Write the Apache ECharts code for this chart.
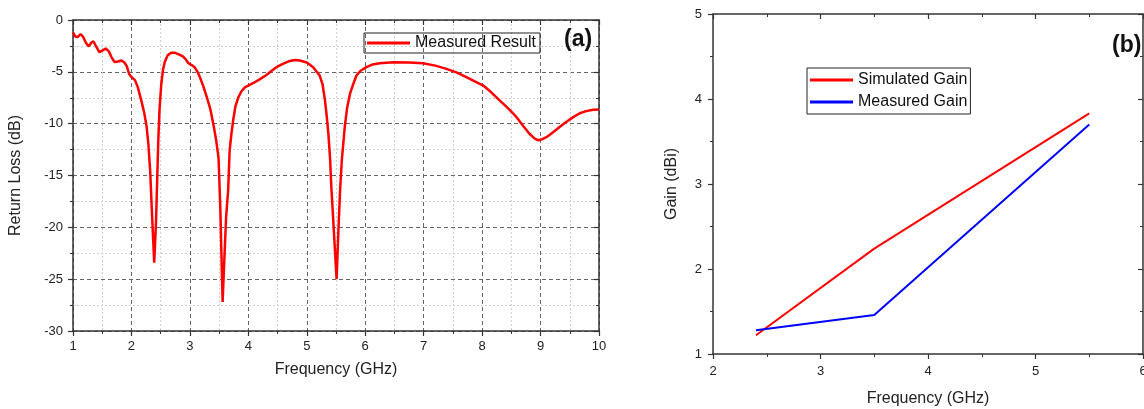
<!DOCTYPE html>
<html>
<head>
<meta charset="utf-8">
<script src="https://cdn.jsdelivr.net/npm/echarts@6/dist/echarts.min.js"></script>
<style>
  html, body { margin: 0; padding: 0; background: #fff; }
  #main { width: 1144px; height: 409px; }
</style>
</head>
<body>
<div id="main"></div>
<script>
// (a) measured return loss
var freqA = [1.00, 1.04, 1.08, 1.13, 1.17, 1.22, 1.27, 1.31, 1.35, 1.40, 1.45, 1.50, 1.56, 1.61, 1.66, 1.71, 1.77, 1.83, 1.88, 1.92,
  1.96, 2.00, 2.06, 2.11, 2.17, 2.22, 2.26, 2.29, 2.32, 2.35, 2.39, 2.42, 2.44, 2.46, 2.48, 2.51, 2.54, 2.57, 2.62, 2.68,
  2.74, 2.80, 2.88, 2.93, 2.97, 3.03, 3.08, 3.13, 3.17, 3.23, 3.29, 3.35, 3.40, 3.45, 3.49, 3.52, 3.56, 3.59, 3.62, 3.655,
  3.68, 3.71, 3.74, 3.78, 3.83, 3.88, 3.94, 4.08, 4.20, 4.31, 4.40, 4.48, 4.60, 4.71, 4.80, 4.88, 5.00, 5.11, 5.22, 5.27,
  5.31, 5.34, 5.37, 5.40, 5.42, 5.47, 5.51, 5.54, 5.57, 5.60, 5.65, 5.69, 5.74, 5.80, 5.85, 5.92, 6.02, 6.12, 6.25, 6.48,
  6.75, 6.99, 7.20, 7.39, 7.56, 7.73, 8.02, 8.16, 8.30, 8.45, 8.59, 8.70, 8.81, 8.90, 8.96, 9.03, 9.10, 9.22, 9.33, 9.45,
  9.56, 9.67, 9.78, 9.90, 10.0];
var returnLoss = [-1.2, -1.6, -1.65, -1.35, -1.6, -2.2, -2.55, -2.2, -2.05, -2.6, -3.1, -2.95, -2.75, -3.0, -3.6, -4.05, -4.0, -3.9, -4.1, -4.45,
  -5.2, -5.5, -5.8, -6.5, -7.8, -9.0, -10.3, -12.0, -14.5, -18.5, -23.4, -19.5, -15.5, -11.5, -8.7, -6.2, -4.8, -4.05, -3.4, -3.15,
  -3.15, -3.3, -3.5, -3.8, -4.15, -4.35, -4.55, -5.0, -5.5, -6.4, -7.45, -8.6, -10.0, -11.6, -13.3, -18.0, -27.2, -23.0, -19.0, -16.4,
  -12.6, -11.0, -9.7, -8.3, -7.45, -6.9, -6.5, -6.1, -5.7, -5.3, -4.9, -4.55, -4.2, -3.95, -3.85, -3.9, -4.1, -4.55, -5.35, -6.2,
  -7.7, -9.2, -11.0, -13.5, -16.1, -21.0, -25.0, -20.5, -16.4, -13.5, -10.3, -8.5, -7.1, -6.1, -5.35, -4.9, -4.55, -4.3, -4.17, -4.07,
  -4.1, -4.17, -4.4, -4.71, -5.05, -5.5, -6.32, -7.0, -7.76, -8.55, -9.37, -10.2, -10.97, -11.45, -11.6, -11.5, -11.3, -10.8, -10.3, -9.8,
  -9.37, -9.0, -8.79, -8.65, -8.63];

// (b) gain
var gainFreq = [2.4, 3.5, 5.5];
var simulatedGain = [1.22, 2.24, 3.83];
var measuredGain = [1.28, 1.46, 3.70];

var font = '"Liberation Sans", Arial, sans-serif';
var axisColor = '#333';

function pairs(xs, ys) {
  return xs.map(function (x, i) { return [x, ys[i]]; });
}

function mainAxis(gridIndex, pos, min, max, name, nameGap, grid) {
  return {
    type: 'value', gridIndex: gridIndex, position: pos, min: min, max: max, interval: 1,
    name: name, nameLocation: 'middle', nameGap: nameGap,
    nameTextStyle: { fontSize: 16, color: '#222', fontFamily: font },
    axisLine: { show: true, onZero: false, lineStyle: { color: axisColor, width: 1.5 } },
    axisTick: { show: true, inside: false, length: 5, lineStyle: { color: axisColor, width: 1.2 } },
    minorTick: { show: true, splitNumber: 2, length: 3, lineStyle: { color: axisColor, width: 1 } },
    axisLabel: { fontSize: 13, color: '#222', fontFamily: font, margin: 9 },
    splitLine: { show: grid, lineStyle: { color: '#666', type: [4, 3], width: 1 } },
    minorSplitLine: { show: grid, lineStyle: { color: '#d0d0d0', type: [2, 2], width: 1 } }
  };
}

function mirrorAxis(gridIndex, pos, min, max, interval) {
  return {
    type: 'value', gridIndex: gridIndex, position: pos, min: min, max: max, interval: interval,
    axisLine: { show: true, onZero: false, lineStyle: { color: axisColor, width: 1.5 } },
    axisTick: { show: true, inside: true, length: 5, lineStyle: { color: axisColor, width: 1.2 } },
    minorTick: { show: true, splitNumber: 2, length: 3, lineStyle: { color: axisColor, width: 1 } },
    axisLabel: { show: false },
    splitLine: { show: false }
  };
}

var xA = mainAxis(0, 'bottom', 1, 10, 'Frequency (GHz)', 31, true);
var yA = mainAxis(0, 'left', -30, 0, 'Return Loss (dB)', 49, true);
yA.interval = 5;
yA.axisLabel.margin = 10;

var xB = mainAxis(1, 'bottom', 2, 6, 'Frequency (GHz)', 37, false);
xB.axisLabel.margin = 11;
var yB = mainAxis(1, 'left', 1, 5, 'Gain (dBi)', 33, false);
yB.axisLabel.margin = 11;

var chart = echarts.init(document.getElementById('main'));
chart.setOption({
  animation: false,
  textStyle: { fontFamily: font },
  title: [
    { text: '(a)', left: 564, top: 28, padding: 0, textStyle: { fontSize: 23, fontWeight: 'bold', color: '#111', fontFamily: font } },
    { text: '(b)', left: 1112, top: 34, padding: 0, textStyle: { fontSize: 23, fontWeight: 'bold', color: '#111', fontFamily: font } }
  ],
  legend: [
    {
      data: ['Measured Result'], left: 364, top: 33, padding: [1, 4, 1, 3],
      borderColor: '#222', borderWidth: 1, icon: 'rect', itemWidth: 43, itemHeight: 3, itemGap: 5,
      textStyle: { fontSize: 16, color: '#111', fontFamily: font, lineHeight: 18 }
    },
    {
      data: ['Simulated Gain', 'Measured Gain'], left: 807, top: 68, orient: 'vertical', padding: [3, 3, 3, 3],
      borderColor: '#222', borderWidth: 1, icon: 'rect', itemWidth: 43, itemHeight: 3, itemGap: 4,
      textStyle: { fontSize: 16, color: '#111', fontFamily: font, lineHeight: 18 }
    }
  ],
  grid: [
    { left: 73, top: 20, width: 526, height: 311, outerBoundsMode: 'none' },
    { left: 713, top: 14, width: 430, height: 340, outerBoundsMode: 'none' }
  ],
  xAxis: [xA, mirrorAxis(0, 'top', 1, 10, 1), xB, mirrorAxis(1, 'top', 2, 6, 1)],
  yAxis: [yA, mirrorAxis(0, 'right', -30, 0, 5), yB, mirrorAxis(1, 'right', 1, 5, 1)],
  series: [
    {
      name: 'Measured Result', type: 'line', xAxisIndex: 0, yAxisIndex: 0,
      data: pairs(freqA, returnLoss), showSymbol: false, symbol: 'none',
      lineStyle: { color: '#ff0000', width: 2.5 }, itemStyle: { color: '#ff0000' }
    },
    {
      name: 'Simulated Gain', type: 'line', xAxisIndex: 2, yAxisIndex: 2,
      data: pairs(gainFreq, simulatedGain), showSymbol: false, symbol: 'none',
      lineStyle: { color: '#ff0000', width: 2 }, itemStyle: { color: '#ff0000' }
    },
    {
      name: 'Measured Gain', type: 'line', xAxisIndex: 2, yAxisIndex: 2,
      data: pairs(gainFreq, measuredGain), showSymbol: false, symbol: 'none',
      lineStyle: { color: '#0000ff', width: 2 }, itemStyle: { color: '#0000ff' }
    }
  ]
});
</script>
</body>
</html>
